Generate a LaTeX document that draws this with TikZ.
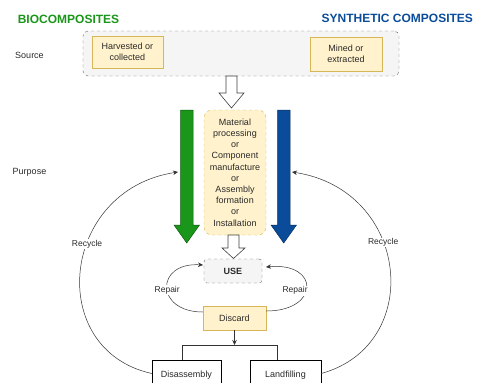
\documentclass[tikz,border=0pt]{standalone}
\usepackage{fontspec}
\setmainfont{Liberation Sans}
\usetikzlibrary{arrows.meta}
\definecolor{yfill}{HTML}{FFF2CC}
\definecolor{ydraw}{HTML}{D6B656}
\definecolor{gfill}{HTML}{F5F5F5}
\definecolor{gdraw}{HTML}{666666}
\definecolor{biogreen}{HTML}{1A961A}
\definecolor{biogreendark}{HTML}{0B5A0B}
\definecolor{synblue}{HTML}{0A4C9A}
\definecolor{synbluedark}{HTML}{062E5E}
\definecolor{txt}{HTML}{2A2A2A}
\begin{document}
\begin{tikzpicture}[x=1pt,y=-1pt,
  txtnine/.style={font=\fontsize{9}{11}\selectfont, text=txt},
  ybox/.style={draw=ydraw, fill=yfill, align=center, inner sep=1pt, txtnine},
  gbox/.style={draw=gdraw, fill=gfill, dashed, rounded corners=5pt, inner sep=1pt},
  wbox/.style={draw=black, fill=white, inner sep=1pt, txtnine},
  conn/.style={draw=black!80, line width=0.5pt},
  arr/.style={conn, -{Stealth[length=5pt,width=4.5pt]}},
  lbl/.style={fill=white, inner sep=1pt, font=\fontsize{8.5}{10}\selectfont, text=txt},
  hollow/.style={draw=black!75, fill=white, line width=0.6pt, line join=miter},
]
\useasboundingbox (0,0) rectangle (477,383);

% titles
\node[font=\bfseries\fontsize{12}{14}\selectfont, text=biogreen] (tbio) at (68.5,19) {BIOCOMPOSITES};
\node[font=\bfseries\fontsize{12}{14}\selectfont, text=synblue, anchor=east] (tsyn) at (476.5,18) {SYNTHETIC COMPOSITES};

% row labels
\node[txtnine] (lsource) at (29.5,55) {Source};
\node[txtnine] (lpurpose) at (29.5,172) {Purpose};

% source box
\node[gbox, minimum width=316pt, minimum height=45pt] (src) at (241,53.5) {};
\node[ybox, minimum width=71pt, minimum height=32pt] (harv) at (127.5,52) {Harvested or\\collected};
\node[ybox, minimum width=72pt, minimum height=34pt] (mined) at (346,54) {Mined or\\extracted};

% hollow arrow from source
\draw[hollow] (226,76) -- (237,76) -- (237,93) -- (244,93) -- (231.5,108) -- (219,93) -- (226,93) -- cycle;

% process box
\node[ybox, dashed, rounded corners=8pt, minimum width=62pt, minimum height=125pt, font=\fontsize{9}{11.2}\selectfont] (proc) at (235,172.5)
  {Material\\processing\\or\\Component\\manufacture\\or\\Assembly\\formation\\or\\Installation};

% big arrows
\draw[fill=biogreen, draw=biogreendark, line width=0.5pt] (180.5,110) -- (193,110) -- (193,225) -- (199.5,225) -- (186.75,243) -- (174,225) -- (180.5,225) -- cycle;
\draw[fill=synblue, draw=synbluedark, line width=0.5pt] (277.5,110) -- (290,110) -- (290,225) -- (296.5,225) -- (283.75,243) -- (271,225) -- (277.5,225) -- cycle;

% hollow arrow to use
\draw[hollow] (228,235) -- (239,235) -- (239,248) -- (245,248) -- (233.5,258.5) -- (222,248) -- (228,248) -- cycle;

% use & discard
\node[gbox, rounded corners=3pt, minimum width=58pt, minimum height=24pt, font=\bfseries\fontsize{9}{11}\selectfont, text=txt] (use) at (233,271) {USE};
\node[ybox, minimum width=63pt, minimum height=24pt] (disc) at (234.5,318) {Discard};

% end-of-life boxes
\node[wbox, minimum width=69pt, minimum height=27pt, text depth=0pt] (dis) at (186.5,373.5) {\raisebox{-1pt}{Disassembly}};
\node[wbox, minimum width=71pt, minimum height=27pt, text depth=0pt] (land) at (285.5,373.5) {\raisebox{-1pt}{Landfilling}};

% discard split
\coordinate (jm) at (234.5,345);
\coordinate (jl) at (182.5,345);
\coordinate (jr) at (277,345);
\draw[arr] (disc.south) -- (jm);
\draw[conn] (dis.north -| jl) -- (jl) -- (jr) -- (land.north -| jr);

% repair loops
\coordinate (ul) at (203,265);
\coordinate (ur) at (266,267);
\draw[arr] ([yshift=6pt]disc.west) .. controls (155,312) and (155,262) .. (ul)
  node[lbl, pos=0.46] {Repair};
\draw[arr] ([yshift=7pt]disc.east) .. controls (320,311) and (320,262) .. (ur)
  node[lbl, pos=0.45, xshift=-11pt] {Repair};

% recycle loops
\coordinate (gl) at (178,172);
\coordinate (br) at (292,172);
\draw[arr] (dis.west) .. controls (45,350) and (60,190) .. (gl)
  node[lbl, pos=0.6] {Recycle};
\draw[arr] (land.east) .. controls (425,345) and (410,190) .. (br)
  node[lbl, pos=0.6] {Recycle};
\end{tikzpicture}
\end{document}
